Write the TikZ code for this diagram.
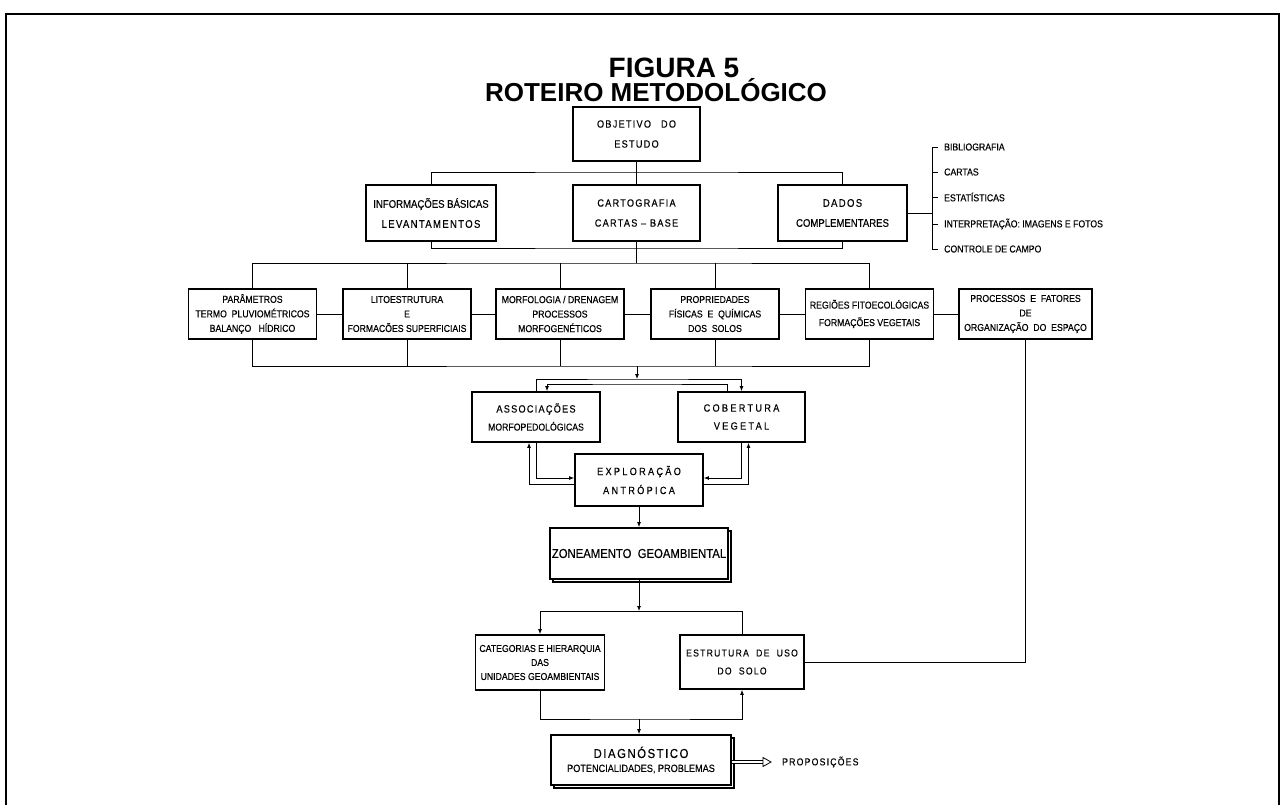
\documentclass[tikz,border=0pt]{standalone}
\usepackage{fontspec}
\setmainfont[FakeStretch=0.87,FakeBold=0.3]{Liberation Sans}
\newfontfamily\spacedfont[FakeStretch=0.87,FakeBold=0.3,LetterSpace=12]{Liberation Sans}
\newfontfamily\widefont[FakeStretch=0.87,FakeBold=0.3,LetterSpace=22]{Liberation Sans}
\newfontfamily\titlefont{Liberation Sans}
\usetikzlibrary{arrows.meta,positioning,shadows}

\begin{document}
\begin{tikzpicture}[
    x=1pt, y=-1pt,
    box/.style={rectangle, draw, line width=1.8pt, fill=white, minimum width=128pt, minimum height=50pt, inner sep=2pt, align=center, font=\fontsize{10}{14.5}\selectfont},
    topbox/.style={box, minimum height=56pt, font=\fontsize{11}{20}\selectfont},
    midbox/.style={box, font=\spacedfont\fontsize{10.5}{18}\selectfont},
    slab/.style={box, copy shadow={shadow xshift=3pt, shadow yshift=-3pt, draw=black, fill=white, line width=1.4pt}},
    item/.style={anchor=west, inner sep=0pt, font=\fontsize{10}{12}\selectfont},
    link/.style={line width=0.8pt},
    arrow/.style={link, -{Latex[length=5pt, width=4pt]}},
    dblarrow/.style={double, double distance=2.4pt, line width=0.7pt}
]
\useasboundingbox (0,0) rectangle (1285,805);

% frame
\draw[line width=1.6pt] (6,805) -- (6,14) -- (1279,14) -- (1279,805);

% title
\node[anchor=base, inner sep=0pt, font=\titlefont\bfseries\fontsize{28}{30}\selectfont] (fig) at (674,78) {FIGURA 5};
\node[anchor=base, inner sep=0pt, font=\titlefont\bfseries\fontsize{26}{28}\selectfont] (title) at (656,102) {ROTEIRO METODOLÓGICO};

% objective and basic data
\node[topbox, minimum width=127pt, minimum height=54pt, font=\spacedfont\fontsize{10.5}{20}\selectfont] (obj) at (636.5,134) {OBJETIVO\hspace{10pt}DO\\ESTUDO};
\node[topbox, minimum width=130pt] (info) at (431,213) {INFORMAÇÕES BÁSICAS\\{\spacedfont LEVANTAMENTOS}};
\node[topbox, minimum width=127pt, font=\spacedfont\fontsize{10.5}{20}\selectfont] (carto) at (636.5,213) {CARTOGRAFIA\\CARTAS – BASE};
\node[topbox, minimum width=129pt] (dados) at (842.5,213) {{\spacedfont DADOS}\\COMPLEMENTARES};

% sources list
\node[item] (bib) at (944,147) {BIBLIOGRAFIA};
\node[item] (cartas) at (944,172) {CARTAS};
\node[item] (estat) at (944,197) {ESTATÍSTICAS};
\node[item] (interp) at (944,224) {INTERPRETAÇÃO: IMAGENS E FOTOS};
\node[item] (campo) at (944,249) {CONTROLE DE CAMPO};
\coordinate (brk) at (932,213);

% thematic analysis
\node[box] (param) at (252.5,314) {PARÂMETROS\\TERMO\ \ PLUVIOMÉTRICOS\\BALANÇO\ \ \ HÍDRICO};
\node[box] (lito) at (407,314) {LITOESTRUTURA\\E\\FORMACÕES SUPERFICIAIS};
\node[box] (morfo) at (560,314) {MORFOLOGIA / DRENAGEM\\PROCESSOS\\MORFOGENÉTICOS};
\node[box] (propr) at (715,314) {PROPRIEDADES\\FÍSICAS\ \ E\ \ QUÍMICAS\\DOS\ \ SOLOS};
\node[box] (regioes) at (869.5,314) {REGIÕES FITOECOLÓGICAS\\[3pt]FORMAÇÕES VEGETAIS};
\node[box, minimum width=133pt] (proc) at (1025.5,314) {PROCESSOS\ \ E\ \ FATORES\\DE\\ORGANIZAÇÃO\ \ DO\ \ ESPAÇO};

% synthesis
\node[midbox] (assoc) at (536,417) {ASSOCIAÇÕES\\{\normalfont\fontsize{10}{18}\selectfont MORFOPEDOLÓGICAS}};
\node[midbox, minimum width=127pt, font=\widefont\fontsize{10.5}{18}\selectfont] (cobert) at (741.5,417) {COBERTURA\\VEGETAL};
\node[midbox, minimum height=52pt, font=\widefont\fontsize{10.5}{19}\selectfont] (explor) at (639,480) {EXPLORAÇÃO\\ANTRÓPICA};
\node[slab, minimum width=176pt, minimum height=51pt, font=\fontsize{13}{15}\selectfont] (zone) at (639,553.5) {ZONEAMENTO\ \ GEOAMBIENTAL};
\node[box, minimum width=129pt, minimum height=55pt, font=\fontsize{10}{14}\selectfont] (categ) at (540,662.5) {CATEGORIAS E HIERARQUIA\\DAS\\UNIDADES GEOAMBIENTAIS};
\node[box, minimum width=124pt, minimum height=54pt, font=\spacedfont\fontsize{10}{18}\selectfont] (estrut) at (742,662) {ESTRUTURA\ \ DE\ \ USO\\DO\ \ SOLO};
\node[slab, minimum width=180pt, minimum height=50pt, font=\fontsize{10.5}{14}\selectfont] (diag) at (641,760) {{\spacedfont\fontsize{13}{14}\selectfont DIAGNÓSTICO}\\POTENCIALIDADES, PROBLEMAS};
\node[item, font=\spacedfont\fontsize{10}{12}\selectfont] (propos) at (782,762) {PROPOSIÇÕES};

% buses
\coordinate (busA) at (636.5,172);
\coordinate (busB) at (636.5,248);
\coordinate (busC) at (636.5,263);
\coordinate (busD) at (637,366);
\coordinate (fbA) at (637,379);
\coordinate (fbB) at (637,384);
\coordinate (busE) at (639,611);
\coordinate (busF) at (639,719);
\coordinate (ptip) at ([xshift=-11pt]propos.west);

% connectors, top part
\draw[link] (obj) -- (carto);
\draw[link] (info.north) |- (busA) -| (dados.north);
\draw[link] (info.south) |- (busB) -| (dados.south);
\draw[link] (carto.south) -- (busC);
\draw[link] (dados.east) -- (dados.east -| brk);
\draw[link] ([xshift=-6pt]bib.west) -| (brk) |- ([xshift=-6pt]campo.west);
\foreach \n in {cartas,estat,interp}
    \draw[link] ([xshift=-6pt]\n.west) -- (\n.west -| brk);

% connectors, thematic row
\draw[link] (param.north) |- (busC) -| (regioes.north);
\draw[link] (param.south) |- (busD) -| (regioes.south);
\foreach \n in {lito,morfo,propr} {
    \draw[link] (\n.north) -- (\n.north |- busC);
    \draw[link] (\n.south) -- (\n.south |- busD);
}
\draw[link] (param) -- (lito);
\draw[link] (lito) -- (morfo);
\draw[link] (morfo) -- (propr);
\draw[link] (propr) -- (regioes);
\draw[link] (regioes) -- (proc);
\draw[link] (proc.south) |- (estrut.east);

% connectors, synthesis
\draw[arrow] (busD) -- (fbA);
\draw[arrow] (assoc.north) |- (fbA) -| (cobert.north);
\draw[arrow] ([xshift=-14pt]cobert.north) |- (fbB) -| ([xshift=11pt]assoc.north);
\draw[arrow] (assoc.south) |- ([yshift=2pt]explor.west);
\draw[arrow] ([yshift=-4pt]explor.west) -| ([xshift=-7pt]assoc.south);
\draw[arrow] (cobert.south) |- ([yshift=2pt]explor.east);
\draw[arrow] ([yshift=-4pt]explor.east) -| ([xshift=7pt]cobert.south);
\draw[arrow] (explor) -- (explor |- zone.north);
\draw[arrow] (zone.south) -- (busE);
\draw[arrow] (busE) -| (categ.north);
\draw[link] (busE) -| (estrut.north);
\draw[arrow] (categ.south) |- (busF) -| (estrut.south);
\draw[arrow] (busF) -- (busF |- diag.north);

% proposals
\draw[dblarrow, shorten >=8pt] (diag.east |- ptip) -- (ptip);
\draw[link, fill=white] ([xshift=-8pt, yshift=4.5pt]ptip) -- (ptip) -- ([xshift=-8pt, yshift=-4.5pt]ptip) -- cycle;

\end{tikzpicture}
\end{document}
